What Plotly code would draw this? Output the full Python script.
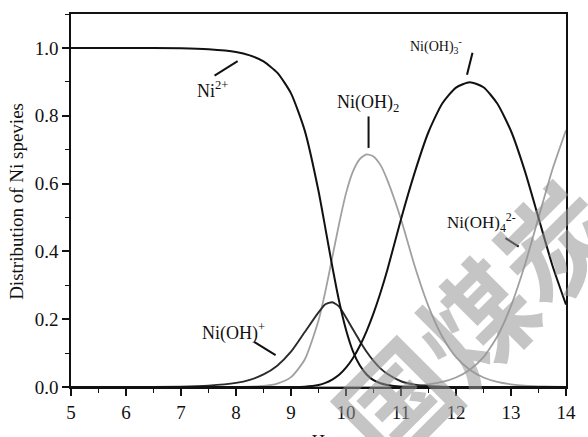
import plotly.graph_objects as go

# pH grid and species fractions
ph = [5, 6, 7, 7.5, 8, 8.25, 8.5, 8.75, 9, 9.25, 9.5, 9.625, 9.75, 9.875, 10, 10.125,
      10.25, 10.375, 10.5, 10.625, 10.75, 11, 11.25, 11.5, 11.75, 12, 12.25, 12.5,
      12.75, 13, 13.25, 13.5, 13.75, 14]

ni2 = [1.000, 1.000, 0.999, 0.996, 0.988, 0.978, 0.960, 0.927, 0.866, 0.756, 0.578,
       0.468, 0.356, 0.253, 0.169, 0.106, 0.064, 0.037, 0.020, 0.011, 0.006, 0.001,
       0.000, 0.000, 0.000, 0.000, 0.000, 0.000, 0.000, 0.000, 0.000, 0.000, 0.000, 0.000]

nioh = [0.000, 0.000, 0.001, 0.004, 0.012, 0.021, 0.037, 0.063, 0.104, 0.162, 0.220,
        0.244, 0.250, 0.237, 0.205, 0.170, 0.136, 0.104, 0.077, 0.055, 0.039, 0.017,
        0.007, 0.003, 0.001, 0.000, 0.000, 0.000, 0.000, 0.000, 0.000, 0.000, 0.000, 0.000]

nioh2 = [0.000, 0.000, 0.000, 0.000, 0.000, 0.001, 0.003, 0.010, 0.029, 0.081, 0.196,
         0.282, 0.382, 0.482, 0.571, 0.635, 0.672, 0.686, 0.680, 0.655, 0.611, 0.495,
         0.356, 0.238, 0.149, 0.088, 0.051, 0.028, 0.015, 0.008, 0.004, 0.002, 0.001, 0.000]

nioh3 = [0.000, 0.000, 0.000, 0.000, 0.000, 0.000, 0.000, 0.000, 0.000, 0.001, 0.006,
         0.012, 0.022, 0.036, 0.057, 0.085, 0.121, 0.165, 0.217, 0.277, 0.344, 0.495,
         0.633, 0.752, 0.836, 0.883, 0.899, 0.884, 0.836, 0.755, 0.638, 0.499, 0.360, 0.243]

nioh4 = [0.000, 0.000, 0.000, 0.000, 0.000, 0.000, 0.000, 0.000, 0.000, 0.000, 0.000,
         0.000, 0.000, 0.000, 0.000, 0.000, 0.000, 0.000, 0.000, 0.000, 0.001, 0.002,
         0.004, 0.008, 0.015, 0.028, 0.051, 0.088, 0.149, 0.239, 0.359, 0.499, 0.640, 0.757]

x_ticks = [5, 6, 7, 8, 9, 10, 11, 12, 13, 14]
y_ticks = [0.0, 0.2, 0.4, 0.6, 0.8, 1.0]

SERIF = "Liberation Serif, Times New Roman, serif"
BLACK = "#111111"
GRAY = "#a0a0a0"

fig = go.Figure()

def add(y, color, width):
    fig.add_trace(go.Scatter(x=ph, y=y, mode="lines",
                             line=dict(color=color, width=width, shape="spline", smoothing=0.6),
                             showlegend=False, hoverinfo="skip"))

add(nioh2, GRAY, 1.8)
add(nioh4, GRAY, 1.8)
add(nioh, "#2a2a2a", 1.9)
add(ni2, BLACK, 2.0)
add(nioh3, BLACK, 2.0)

annotations = []
# watermark
annotations.append(dict(text="国煤炭", x=0.811, y=0.185, xref="paper", yref="paper",
                        xanchor="center", yanchor="middle",
                        showarrow=False, textangle=-45,
                        font=dict(family="Noto Sans CJK SC", size=112,
                                  color="rgba(150,150,150,0.55)", weight=700)))

labels = [
    ("Ni<sup>2+</sup>", 7.58, 0.877, 18),
    ("Ni(OH)<sup>+</sup>", 7.96, 0.162, 18),
    ("Ni(OH)<sub>2</sub>", 10.40, 0.836, 18),
    ("Ni(OH)<sub>3</sub><sup>-</sup>", 11.64, 1.005, 14),
    ("Ni(OH)<sub>4</sub><sup>2-</sup>", 12.46, 0.484, 17),
]
for t, x, y, s in labels:
    annotations.append(dict(text=t, x=x, y=y, xref="x", yref="y", showarrow=False,
                            font=dict(family=SERIF, size=s, color="#111")))

# axis titles
annotations.append(dict(text="Distribution of Ni spevies", x=-0.1106, y=0.497, xref="paper", yref="paper",
                        xanchor="center", yanchor="middle",
                        showarrow=False, textangle=-90, font=dict(family=SERIF, size=19, color="#111")))
annotations.append(dict(text="pH", x=0.49, y=-0.112, xref="paper", yref="paper", yanchor="top",
                        showarrow=False, font=dict(family=SERIF, size=19, color="#111")))

leaders = [
    (7.61, 0.918, 8.03, 0.961),
    (8.33, 0.133, 8.72, 0.094),
    (10.41, 0.798, 10.41, 0.705),
    (12.30, 0.986, 12.20, 0.921),
    (12.90, 0.439, 13.14, 0.414),
]
shapes = [dict(type="line", x0=a, y0=b, x1=c, y1=d, xref="x", yref="y",
               line=dict(color="#111", width=2)) for a, b, c, d in leaders]

axis_common = dict(showline=True, linecolor="#111", linewidth=1.6, mirror=True,
                   showgrid=False, zeroline=False, ticks="outside", tickcolor="#111",
                   tickwidth=1.6, ticklen=7, tickfont=dict(family=SERIF, size=19, color="#111"))

fig.update_layout(
    width=588, height=437,
    margin=dict(l=71, r=15, t=14, b=50),
    paper_bgcolor="white", plot_bgcolor="white",
    xaxis=dict(range=[5, 14], tickvals=x_ticks, ticktext=[str(v) for v in x_ticks],
               minor=dict(dtick=0.5, ticks="outside", ticklen=4, tickcolor="#111", tickwidth=1.4),
               **axis_common),
    yaxis=dict(range=[0, 1.1], tickvals=y_ticks, ticktext=["%.1f" % v for v in y_ticks],
               minor=dict(dtick=0.1, ticks="outside", ticklen=4, tickcolor="#111", tickwidth=1.4),
               **axis_common),
    annotations=annotations,
    shapes=shapes,
)

fig.write_html("out.html", config={"displayModeBar": False},
               post_script="document.body.style.margin='0px';document.body.style.padding='0px';")
